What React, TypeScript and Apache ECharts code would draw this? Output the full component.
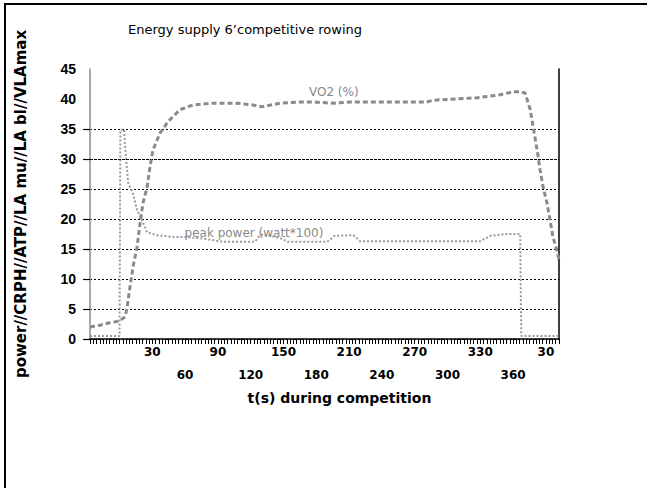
import React, { useEffect, useRef } from "react";
import * as echarts from "echarts";

const titleText = "Energy supply 6\u2019competitive rowing";
const yAxisName = "power//CRPH//ATP//LA mu//LA bl//VLAmax";
const xAxisName = "t(s) during competition";

const xTickValues = [30, 60, 90, 120, 150, 180, 210, 240, 270, 300, 330, 360, 390];
const xTickLabels = ["30", "60", "90", "120", "150", "180", "210", "240", "270", "300", "330", "360", "30"];
const yTickValues = [0, 5, 10, 15, 20, 25, 30, 35];
const yTickShown = [true, true, true, true, true, true, true, true, false, false];

const vo2Time = [-27, -18, -9, 0, 5, 7, 9.6, 12.3, 16, 18.8, 21.5, 25.2, 27.9, 30.6, 37, 44.3, 55, 67, 85.5, 107.5, 122, 130.4, 146.8, 165, 177, 195.5, 211, 281, 287, 327, 348, 360, 366.5, 371, 375.7, 378.4, 382, 384.7, 387.5, 391, 393.8, 396.5, 400, 402];
const vo2Values = [2.0, 2.3, 2.7, 3.0, 3.7, 5.3, 8.7, 12, 15.3, 19.3, 22.7, 25.3, 28.7, 31.5, 34.3, 36.2, 38.2, 39, 39.3, 39.3, 39, 38.7, 39.3, 39.5, 39.5, 39.3, 39.5, 39.5, 39.8, 40.2, 40.7, 41.2, 41.2, 41, 38.2, 35.3, 31.5, 28.2, 25.3, 22.7, 19.8, 17, 14.8, 13.2];

const powerTime = [-27, 0, 0.8, 4, 6, 8, 12.3, 16, 20.6, 25.2, 34, 49, 58, 74, 95, 124, 127, 131, 147, 154, 190, 197, 214, 220, 330, 339, 353, 366.5, 367.5, 402];
const powerValues = [0.5, 0.5, 34.8, 35, 30, 26, 24.3, 21.5, 19.8, 17.8, 17.3, 17, 17, 16.8, 16.2, 16.2, 17, 17.5, 16.8, 16.2, 16.2, 17.2, 17.3, 16.3, 16.3, 17.2, 17.5, 17.5, 0.5, 0.5];

const vo2Label = { text: "VO2 (%)", t: 196, v: 41.2 };
const powerLabel = { text: "peak power (watt*100)", t: 123, v: 17.7 };

export default function App() {
  const ref = useRef<HTMLDivElement>(null);
  useEffect(() => {
    if (!ref.current) return;
    const chart = echarts.init(ref.current, null, { renderer: "svg" });
    const vo2Data = vo2Time.map((t, i) => [t, vo2Values[i]]);
    const powerData = powerTime.map((t, i) => [t, powerValues[i]]);
    const gridColors = yTickShown.map((s) => (s ? "#000" : "rgba(0,0,0,0)"));
    chart.setOption({
      animation: false,
      backgroundColor: "transparent",
      title: {
        text: titleText,
        left: 128,
        top: 23,
        padding: 0,
        textStyle: { fontFamily: "DejaVu Sans", fontSize: 13, fontWeight: 500, color: "#000" },
      },
      grid: { left: 90, right: 88, top: 69, bottom: 149, containLabel: false, outerBoundsMode: "none" },
      xAxis: {
        type: "value",
        min: -27,
        max: 402,
        interval: 3,
        name: xAxisName,
        nameLocation: "middle",
        nameGap: 51,
        nameTextStyle: { fontFamily: "DejaVu Sans", fontWeight: "bold", fontSize: 14, color: "#000", padding: [0, 0, 0, 30] },
        axisLine: { show: true, onZero: false, lineStyle: { color: "#000", width: 1.5 } },
        axisTick: { show: true, length: 5, lineStyle: { color: "#000", width: 1 } },
        splitLine: { show: false },
        axisLabel: {
          margin: 1,
          lineHeight: 23,
          fontFamily: "DejaVu Sans",
          fontWeight: "bold",
          fontSize: 12,
          color: "#000",
          formatter: (v: number) => {
            const i = xTickValues.indexOf(Math.round(v));
            if (i < 0 || Math.abs(v - Math.round(v)) > 1e-6) return "";
            return i % 2 === 0 ? xTickLabels[i] : "\n" + xTickLabels[i];
          },
        },
      },
      yAxis: [
        {
          type: "value",
          min: 0,
          max: 45,
          interval: 5,
          name: yAxisName,
          nameLocation: "middle",
          nameGap: 62,
          nameTextStyle: { fontFamily: "DejaVu Sans", fontWeight: "bold", fontSize: 15, color: "#000" },
          axisLine: { show: true, onZero: false, lineStyle: { color: "#999", width: 1.7 } },
          axisTick: { show: false },
          axisLabel: { margin: 14, fontFamily: "Liberation Sans", fontWeight: "bold", fontSize: 14, color: "#000" },
          splitLine: {
            show: true,
            lineStyle: { color: gridColors, type: [2, 2], width: 1 },
          },
        },
        {
          type: "value",
          min: 0,
          max: 45,
          interval: 5,
          position: "right",
          axisLine: { show: true, onZero: false, lineStyle: { color: "#000", width: 1.5 } },
          axisTick: { show: false },
          axisLabel: { show: false },
          splitLine: { show: false },
        },
        {
          type: "value",
          min: 0,
          max: 45,
          position: "left",
          axisLine: { show: true, onZero: false, lineStyle: { color: "rgba(0,0,0,0)", width: 1 } },
          axisTick: { show: true, inside: false, length: 7, customValues: yTickValues, lineStyle: { color: "#000", width: 1.2 } },
          axisLabel: { show: true, customValues: yTickValues, formatter: () => "", color: "rgba(0,0,0,0)" },
          splitLine: { show: false },
        },
      ],
      series: [
        {
          name: "VO2",
          type: "line",
          data: vo2Data,
          symbol: "none",
          z: 3,
          lineStyle: { color: "#8a8a8a", width: 3, type: [5, 3] },
          markLine: {
            silent: true,
            symbol: "none",
            label: { show: false },
            lineStyle: { color: "#000", width: 1, type: [1, 1] },
            data: [{ yAxis: 30 }],
          },
          markPoint: {
            silent: true,
            symbol: "circle",
            symbolSize: 0,
            data: [
              {
                coord: [vo2Label.t, vo2Label.v],
                label: { show: true, position: "inside", formatter: vo2Label.text, color: "#888", fontFamily: "DejaVu Sans", fontSize: 12 },
              },
            ],
          },
        },
        {
          name: "power",
          type: "line",
          data: powerData,
          symbol: "none",
          z: 2,
          lineStyle: { color: "#999", width: 2, type: [2, 2] },
          markPoint: {
            silent: true,
            symbol: "circle",
            symbolSize: 0,
            data: [
              {
                coord: [powerLabel.t, powerLabel.v],
                label: { show: true, position: "inside", formatter: powerLabel.text, color: "#8a8a8a", fontFamily: "DejaVu Sans", fontSize: 12 },
              },
            ],
          },
        },
      ],
    });
    return () => chart.dispose();
  }, []);
  return (
    <div style={{ position: "fixed", left: 0, top: 0, width: 647, height: 488, background: "#fff" }}>
      <div
        style={{
          position: "absolute",
          left: 4,
          top: 3,
          right: 0,
          bottom: 0,
          borderTop: "2px solid #000",
          borderLeft: "2px solid #000",
        }}
      />
      <div ref={ref} style={{ position: "absolute", left: 0, top: 0, width: 647, height: 488 }} />
    </div>
  );
}
